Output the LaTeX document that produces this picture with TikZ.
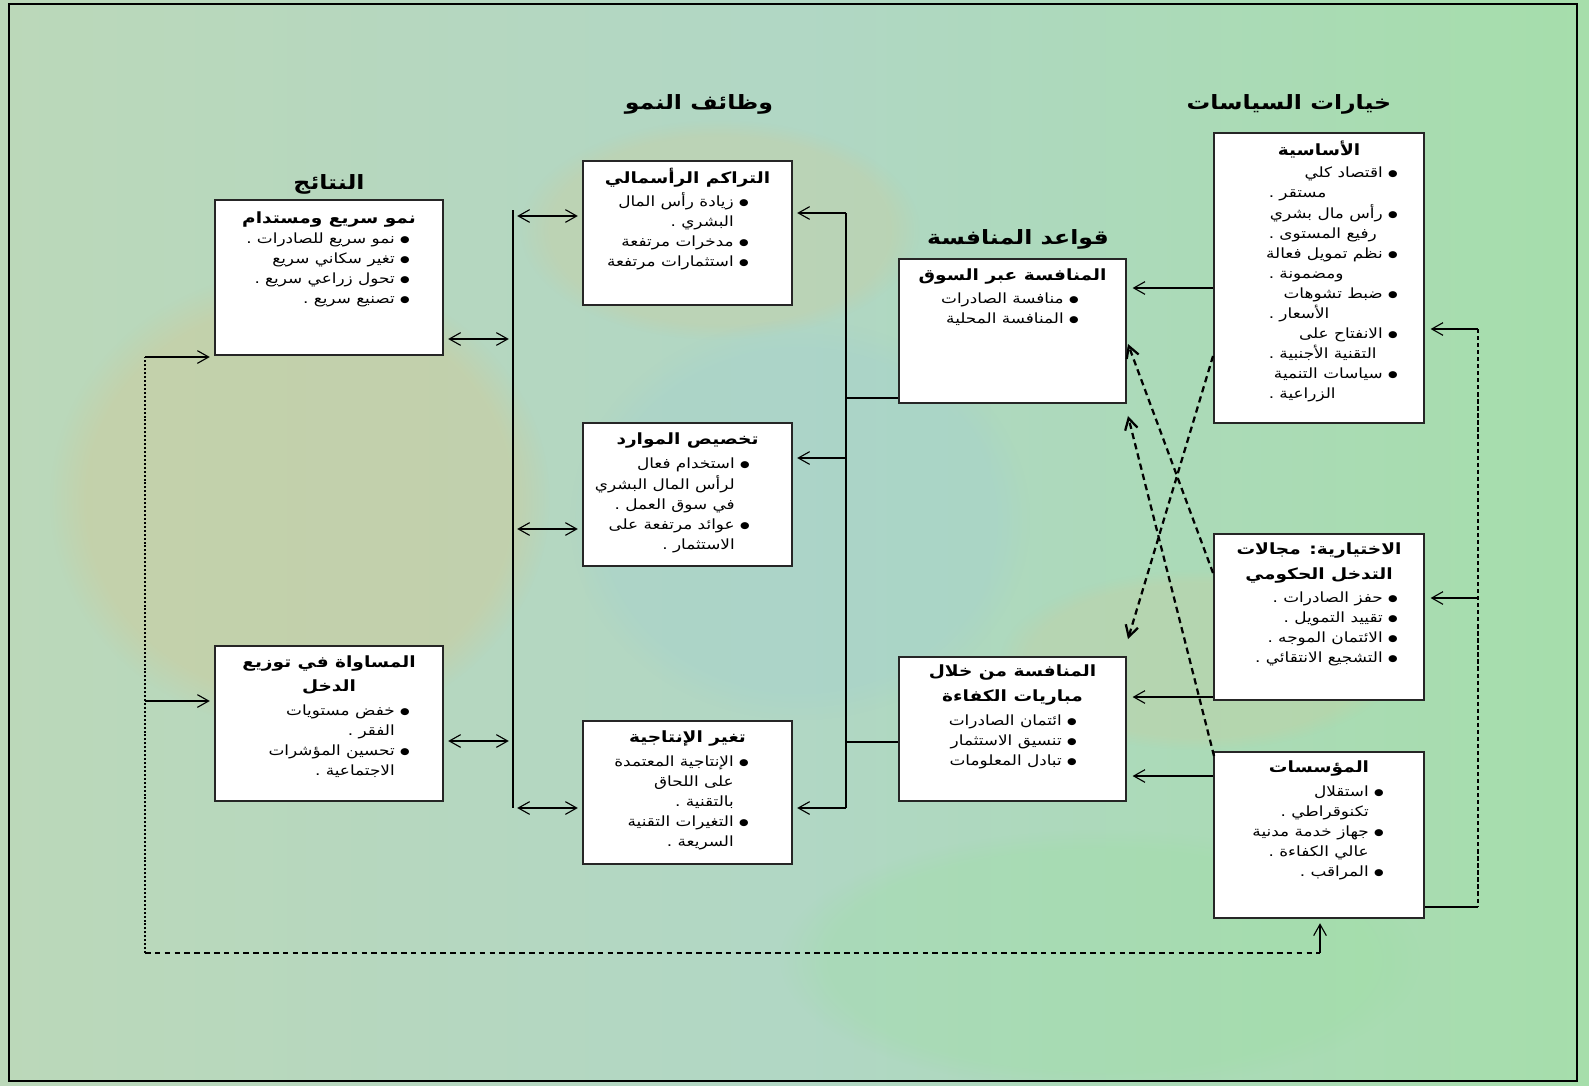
\documentclass[tikz,border=0pt]{standalone}
\usepackage{fontspec}
\newfontfamily\arabicfont[Script=Arabic,FakeStretch=1.2]{DejaVu Sans}
\TeXXeTstate=1
\usetikzlibrary{arrows.meta,calc,fit,fadings}

\newcommand{\blt}{\raisebox{0.8pt}{\fontsize{6.5}{6.5}\selectfont ●}}
\newcommand{\rl}[1]{\beginR #1\endR}
\newcommand{\itm}[1]{\beginR\strut\blt\ #1\endR}
\newcommand{\cnt}[1]{\beginR\strut\phantom{\blt\ }#1\endR}
\newcommand{\cntl}[2]{\makebox[#1][l]{#2}\beginR\strut\phantom{\blt\ }\endR}

\definecolor{bgmint}{RGB}{184,218,190}
\definecolor{bgtan}{RGB}{204,204,158}
\definecolor{bgblue}{RGB}{166,210,206}

\begin{document}
\begin{tikzpicture}[x=0.025cm,y=-0.025cm,
    box/.style={draw=black!85,line width=1.4pt,fill=white,inner sep=0pt},
    ttl/.style={font=\arabicfont\bfseries\fontsize{11}{17.7}\selectfont,align=center,inner sep=0pt},
    lst/.style={font=\arabicfont\fontsize{10}{14.2}\selectfont,align=right,inner sep=0pt,anchor=north east},
    hdr/.style={font=\arabicfont\bfseries\fontsize{14}{16}\selectfont,inner sep=0pt},
    >={Straight Barb[length=8pt,width=9pt]},
    lnk/.style={line width=0.8pt},
    dsh/.style={line width=1.6pt,dash pattern=on 4.5pt off 3pt},
    ]
    \useasboundingbox (0,0) rectangle (1589,1085);
    \shade[left color=bgmint!85!bgtan,right color=bgmint!90!green,middle color=bgblue!40!bgmint] (0,0) rectangle (1589,1085);
    \fill[bgtan,opacity=.55,path fading=circle with fuzzy edge 15 percent] (300,500) ellipse (250 and 230);
    \fill[bgtan,opacity=.35,path fading=circle with fuzzy edge 15 percent] (720,230) ellipse (200 and 110);
    \fill[bgblue,opacity=.45,path fading=circle with fuzzy edge 15 percent] (800,520) ellipse (230 and 200);
    \fill[bgtan,opacity=.3,path fading=circle with fuzzy edge 15 percent] (1200,660) ellipse (200 and 90);
    \fill[bgmint!85!green,opacity=.3,path fading=circle with fuzzy edge 15 percent] (1100,960) ellipse (320 and 130);
    \draw[line width=2pt] (9,4) rectangle (1577,1081);

    \node[hdr] (h1) at (329,184) {\rl{النتائج}};
    \node[hdr] (h2) at (699,104) {\rl{وظائف النمو}};
    \node[hdr] (h3) at (1018,239) {\rl{قواعد المنافسة}};
    \node[hdr] (h4) at (1289,104) {\rl{خيارات السياسات}};

    \node[box,fit={(215,200) (443,355)}] (fast) {};
    \node[box,fit={(215,646) (443,801)}] (equity) {};
    \node[box,fit={(583,161) (792,305)}] (accum) {};
    \node[box,fit={(583,423) (792,566)}] (alloc) {};
    \node[box,fit={(583,721) (792,864)}] (prod) {};
    \node[box,fit={(899,259) (1126,403)}] (market) {};
    \node[box,fit={(899,657) (1126,801)}] (contest) {};
    \node[box,fit={(1214,133) (1424,423)}] (basic) {};
    \node[box,fit={(1214,534) (1424,700)}] (select) {};
    \node[box,fit={(1214,752) (1424,918)}] (inst) {};

    \node[ttl] (fast-t) at ($(fast.north)+(0,20)$) {\rl{نمو سريع ومستدام}};
    \node[lst] (fast-l) at ($(fast.north east)+(-34,30)$) {\itm{نمو سريع للصادرات .}\\ \itm{تغير سكاني سريع}\\ \itm{تحول زراعي سريع .}\\ \itm{تصنيع سريع .}};
    \node[ttl] (equity-t) at ($(equity.north)+(0,30)$) {\rl{المساواة في توزيع}\\ \rl{الدخل}};
    \node[lst] (equity-l) at ($(equity.north east)+(-34,56)$) {\itm{خفض مستويات}\\ \cnt{الفقر .}\\ \itm{تحسين المؤشرات}\\ \cnt{الاجتماعية .}};

    \node[ttl] (accum-t) at ($(accum.north)+(0,18)$) {\rl{التراكم الرأسمالي}};
    \node[lst] (accum-l) at ($(accum.north east)+(-44,32)$) {\itm{زيادة رأس المال}\\ \cnt{البشري .}\\ \itm{مدخرات مرتفعة}\\ \itm{استثمارات مرتفعة}};
    \node[ttl] (alloc-t) at ($(alloc.north)+(0,18)$) {\rl{تخصيص الموارد}};
    \node[lst] (alloc-l) at ($(alloc.north east)+(-43,32)$) {\itm{استخدام فعال}\\ \cnt{لرأس المال البشري}\\ \cnt{في سوق العمل .}\\ \itm{عوائد مرتفعة على}\\ \cnt{الاستثمار .}};
    \node[ttl] (prod-t) at ($(prod.north)+(0,18)$) {\rl{تغير الإنتاجية}};
    \node[lst] (prod-l) at ($(prod.north east)+(-44,32)$) {\itm{الإنتاجية المعتمدة}\\ \cnt{على اللحاق}\\ \cnt{بالتقنية .}\\ \itm{التغيرات التقنية}\\ \cnt{السريعة .}};

    \node[ttl] (market-t) at ($(market.north)+(0,18)$) {\rl{المنافسة عبر السوق}};
    \node[lst] (market-l) at ($(market.north east)+(-48,31)$) {\itm{منافسة الصادرات}\\ \itm{المنافسة المحلية}};
    \node[ttl] (contest-t) at ($(contest.north)+(0,29)$) {\rl{المنافسة من خلال}\\ \rl{مباريات الكفاءة}};
    \node[lst] (contest-l) at ($(contest.north east)+(-50,55)$) {\itm{ائتمان الصادرات}\\ \itm{تنسيق الاستثمار}\\ \itm{تبادل المعلومات}};

    \node[ttl] (basic-t) at ($(basic.north)+(0,17)$) {\rl{الأساسية}};
    \node[lst] (basic-l) at ($(basic.north east)+(-27,31)$) {\itm{اقتصاد كلي}\\ \cntl{2.85cm}{\beginR مستقر .\endR}\\ \itm{رأس مال بشري}\\ \cntl{2.85cm}{\beginR رفيع المستوى .\endR}\\ \itm{نظم تمويل فعالة}\\ \cntl{2.85cm}{\beginR ومضمونة .\endR}\\ \itm{ضبط تشوهات}\\ \cntl{2.85cm}{\beginR الأسعار .\endR}\\ \itm{الانفتاح على}\\ \cntl{2.85cm}{\beginR التقنية الأجنبية .\endR}\\ \itm{سياسات التنمية}\\ \cntl{2.85cm}{\beginR الزراعية .\endR}};
    \node[ttl] (select-t) at ($(select.north)+(0,30)$) {\rl{الاختيارية: مجالات}\\ \rl{التدخل الحكومي}};
    \node[lst] (select-l) at ($(select.north east)+(-27,55)$) {\itm{حفز الصادرات .}\\ \itm{تقييد التمويل .}\\ \itm{الائتمان الموجه .}\\ \itm{التشجيع الانتقائي .}};
    \node[ttl] (inst-t) at ($(inst.north)+(0,17)$) {\rl{المؤسسات}};
    \node[lst] (inst-l) at ($(inst.north east)+(-41,31)$) {\itm{استقلال}\\ \cnt{تكنوقراطي .}\\ \itm{جهاز خدمة مدنية}\\ \cnt{عالي الكفاءة .}\\ \itm{المراقب .}};

    % left bus
    \coordinate (lbt) at (513,210);
    \coordinate (lbb) at (513,808);
    \draw[lnk] (lbt) -- (lbb);
    \foreach \n/\y in {fast/339,equity/741}
        {\coordinate (t) at (513,\y);
         \draw[lnk,<->,shorten <=3pt,shorten >=3pt] (\n.east |- t) -- (t);}
    \foreach \n/\y in {accum/216,alloc/529,prod/808}
        {\coordinate (t) at (513,\y);
         \draw[lnk,<->,shorten <=3pt,shorten >=3pt] (t) -- (\n.west |- t);}

    % middle bus
    \coordinate (mbt) at (846,213);
    \coordinate (mbb) at (846,808);
    \draw[lnk] (mbt) -- (mbb);
    \foreach \n/\y in {accum/213,alloc/458,prod/808}
        {\coordinate (t) at (846,\y);
         \draw[lnk,->,shorten >=3pt] (t) -- (\n.east |- t);}
    \coordinate (m1) at (846,398);
    \coordinate (m2) at (846,742);
    \draw[lnk] (m1) -- (market.west |- m1);
    \draw[lnk] (m2) -- (contest.west |- m2);

    % policy to competition
    \foreach \n/\m/\y in {basic/market/288,select/contest/697,inst/contest/776}
        {\coordinate (t) at (1214,\y);
         \draw[lnk,->,shorten >=4pt] (\n.west |- t) -- (\m.east |- t);}
    \coordinate (d1s) at ($(basic.south west)+(0,-68)$);
    \coordinate (d1e) at ($(contest.north east)+(1,-17)$);
    \coordinate (d2s) at ($(select.west)+(0,-44)$);
    \coordinate (d2e) at ($(market.south east)+(1,-60)$);
    \coordinate (d3s) at ($(inst.north west)+(1,5)$);
    \coordinate (d3e) at ($(market.south east)+(1,12)$);
    \draw[dsh,->] (d1s) -- (d1e);
    \draw[dsh,->] (d2s) -- (d2e);
    \draw[dsh,->] (d3s) -- (d3e);

    % feedback loops
    \coordinate (r1) at (1478,329);
    \coordinate (r2) at (1478,598);
    \coordinate (r3) at (1478,907);
    \draw[lnk,dash pattern=on 3pt off 2pt] (r1) -- (r3);
    \draw[lnk] (inst.east |- r3) -- (r3);
    \draw[lnk,->,shorten >=4pt] (r1) -- (basic.east |- r1);
    \draw[lnk,->,shorten >=4pt] (r2) -- (select.east |- r2);
    \coordinate (b1) at (145,953);
    \coordinate (b2) at (1320,953);
    \coordinate (l1) at (145,357);
    \coordinate (l2) at (145,701);
    \draw[lnk,dash pattern=on 4pt off 3pt] (b1) -- (b2);
    \draw[line width=1.5pt,dash pattern=on 1.4pt off 1.4pt] (b1) -- (l1);
    \draw[lnk,->,shorten >=3pt] (l1) -- (fast.west |- l1);
    \draw[lnk,->,shorten >=3pt] (l2) -- (equity.west |- l2);
    \draw[lnk,->,shorten >=3pt] (b2) -- (inst.south -| b2);
\end{tikzpicture}
\end{document}
